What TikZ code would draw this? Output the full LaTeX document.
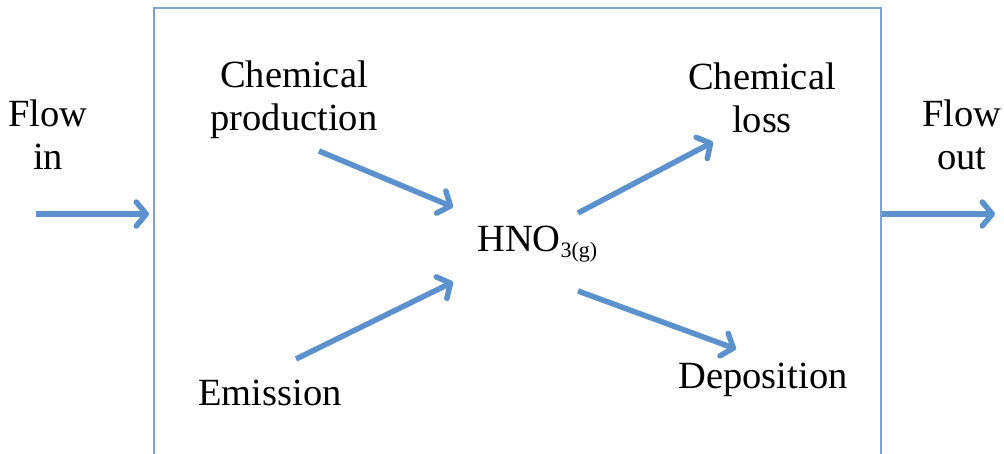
\documentclass[tikz,border=0pt]{standalone}
\usepackage{fontspec}
\setmainfont{Liberation Serif}
\usetikzlibrary{arrows.meta}
\definecolor{boxblue}{HTML}{7BA3D6}
\definecolor{arrblue}{HTML}{5B92CE}
\tikzset{
  x=1pt,y=-1pt,
  lbl/.style={font=\fontsize{38.5}{43}\selectfont, align=center, inner sep=0pt},
  flow/.style={draw=arrblue, line width=5.5pt, -{Straight Barb[length=10pt,width=24pt,line width=0pt 1,round]}},
}
\begin{document}
\begin{tikzpicture}
\useasboundingbox (0,0) rectangle (1004,453);
\draw[boxblue, line width=1.8pt] (154,460) -- (154,8) -- (881,8) -- (881,460);
\node[lbl] (fin) at (48,135) {Flow\\in};
\node[lbl] (fout) at (962,135) {Flow\\out};
\node[lbl] (prod) at (294,100) {Chemical\\production};
\node[lbl] (loss) at (762,98) {Chemical\\loss};
\node[lbl] (emis) at (270,393) {Emission};
\node[lbl] (depo) at (763,380) {Deposition};
\node[lbl, anchor=west] (hno) at (477,244) {HNO\raisebox{-6pt}{\fontsize{22}{26}\selectfont 3(g)}};
\coordinate (inS) at (36,214);
\coordinate (inE) at (149,214);
\coordinate (outS) at (882,214);
\coordinate (outE) at (995,214);
\coordinate (p1) at (319,151); \coordinate (p2) at (453,207);
\coordinate (e1) at (296,359); \coordinate (e2) at (453,282);
\coordinate (l1) at (578,213); \coordinate (l2) at (713,142);
\coordinate (d1) at (578,291); \coordinate (d2) at (736,349);
\draw[flow] (inS) -- (inE);
\draw[flow] (outS) -- (outE);
\draw[flow] (p1) -- (p2);
\draw[flow] (e1) -- (e2);
\draw[flow] (l1) -- (l2);
\draw[flow] (d1) -- (d2);
\end{tikzpicture}
\end{document}
